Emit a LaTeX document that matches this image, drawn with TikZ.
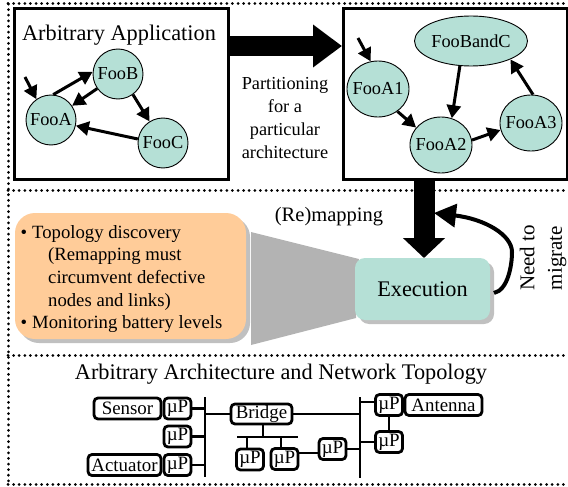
\documentclass[tikz,border=0pt]{standalone}
\usepackage{fontspec}
\setmainfont{Liberation Serif}
\usetikzlibrary{arrows.meta,shapes.geometric}
\definecolor{teal1}{HTML}{B5E0D6}
\definecolor{orange1}{HTML}{FFCC99}
\definecolor{gray1}{HTML}{B3B3B3}
\definecolor{gray2}{HTML}{C0C0C0}
\newcommand{\ztext}[1]{\makebox[0pt]{#1}}
\tikzset{
  dotline/.style={line width=3pt,line cap=round,dash pattern=on 0.01pt off 5.6pt},
  bigbox/.style={draw,line width=3pt,fill=white,inner sep=0pt,outer sep=0pt},
  statenode/.style={draw,ellipse,fill=teal1,line width=0.9pt,inner sep=0pt,outer sep=0.5pt,font=\fontsize{18.3}{22}\selectfont},
  edge/.style={line width=3pt,-{Triangle[length=13pt,width=14pt]},shorten >=0pt},
  netbox/.style={draw,fill=white,rectangle,rounded corners=4pt,line width=2.8pt,inner sep=0pt,outer sep=0pt,font=\fontsize{18.9}{22}\selectfont},
  wire/.style={line width=2.8pt},
  label22/.style={inner sep=0pt,font=\fontsize{22.3}{27}\selectfont},
  label18/.style={inner sep=0pt,align=center,font=\fontsize{18.3}{22.7}\selectfont},
}
\begin{document}
\begin{tikzpicture}[x=1pt,y=-1pt]
\useasboundingbox (0,0) rectangle (568,487);
\fill[white] (0,0) rectangle (568,487);
% dotted frame
\draw[dotline] (8,4) -- (568,4);
\draw[dotline] (8,190) -- (568,190);
\draw[dotline] (8,355) -- (568,355);
\draw[dotline] (8,484) -- (568,484);
\draw[dotline] (8,4) -- (8,484);
% top boxes
\node[bigbox,minimum width=214pt,minimum height=170pt] (appbox) at (121,94) {};
\node[bigbox,minimum width=224pt,minimum height=170pt] (partbox) at (455,94) {};
\node[label22] (apptitle) at (119,35.5) {Arbitrary Application};
\node[statenode,minimum width=50pt,minimum height=50pt] (fooB) at (118,74) {\ztext{FooB}};
\node[statenode,minimum width=50pt,minimum height=50pt] (fooA) at (51,120) {\ztext{FooA}};
\node[statenode,minimum width=50pt,minimum height=50pt] (fooC) at (163,143) {\ztext{FooC}};
\coordinate (entryA) at (25,77);
\draw[edge] (entryA) -- (fooA.125);
\draw[edge] (fooA.85) -- (fooB.175);
\draw[edge] (fooB.215) -- (fooA.34);
\draw[edge] (fooB.-54) -- (fooC.122);
\draw[edge] (fooC.171) -- (fooA.-13);
\node[statenode,minimum width=113pt,minimum height=50pt] (fooBC) at (471,41) {\ztext{FooBandC}};
\node[statenode,minimum width=62pt,minimum height=56pt] (fooA1) at (378,89) {\ztext{FooA1}};
\node[statenode,minimum width=62pt,minimum height=56pt] (fooA2) at (441,145) {\ztext{FooA2}};
\node[statenode,minimum width=62pt,minimum height=56pt] (fooA3) at (531,123) {\ztext{FooA3}};
\coordinate (entryB) at (358,38);
\draw[edge] (entryB) -- (fooA1.105);
\draw[edge] (fooA1.-49) -- (fooA2.145);
\draw[edge] (fooBC.-114) -- (fooA2.68);
\draw[edge] (fooA2.9) -- (fooA3.193);
\draw[edge] (fooA3.86) -- (fooBC.-25);
% partitioning arrow
\coordinate (partS) at (228,46);
\coordinate (partE) at (342,46);
\draw[line width=20pt,-{Triangle[length=29pt,width=41pt]}] (partS) -- (partE);
\node[label18] (parttext) at (285,118) {Partitioning\\for a\\particular\\architecture};
% middle
\fill[gray1] (251,232) -- (359,259) -- (356,318) -- (251,345) -- cycle;
\fill[gray2,rounded corners=20pt] (19,217) rectangle (250,343);
\node[draw=none,fill=orange1,rectangle,rounded corners=20pt,minimum width=231pt,minimum height=126pt,inner sep=0pt,outer sep=0pt] (orangebox) at (130.5,276) {};
\node[inner sep=0pt,anchor=west,align=left,font=\fontsize{18.7}{22.6}\selectfont] (orangetext) at (20.5,279) {\textbullet\hspace{5pt}Topology discovery\\\hspace*{27.5pt}(Remapping must\\\hspace*{27.5pt}circumvent defective\\\hspace*{27.5pt}nodes and links)\\\textbullet\hspace{5pt}Monitoring battery levels};
\fill[gray2,rounded corners=10pt] (359,262) rectangle (494,324);
\node[fill=teal1,rectangle,rounded corners=10pt,minimum width=135pt,minimum height=62pt,inner sep=0pt,outer sep=0pt,font=\fontsize{22.3}{27}\selectfont] (exec) at (422.5,289) {\raisebox{-1pt}{Execution}};
\coordinate (downS) at (424,179);
\coordinate (downE) at (424,258);
\draw[line width=21pt,-{Triangle[length=20pt,width=41pt]}] (downS) -- (downE);
\node[inner sep=0pt,font=\fontsize{20.5}{25}\selectfont] (remap) at (329,217) {(Re)mapping};
\coordinate (loopS) at (494,293);
\coordinate (loopE) at (434,213);
\draw[line width=4pt,-{Triangle[length=22pt,width=23pt]}] (loopS) .. controls (508,290) and (512,265) .. (512,252) .. controls (512,235) and (485,219) .. (loopE);
\node[inner sep=0pt,rotate=90,align=center,font=\fontsize{21}{27.5}\selectfont] (migrate) at (543,258) {Need to\\migrate};
% bottom
\node[label22] (archtitle) at (281,374.5) {Arbitrary Architecture and Network Topology};
\coordinate (busAt) at (205,397);
\coordinate (busAb) at (205,477);
\coordinate (busBt) at (360,397);
\coordinate (busBb) at (360,478);
\coordinate (busCl) at (237,437);
\coordinate (busCr) at (298,437);
\draw[wire] (busAt) -- (busAb);
\draw[wire] (busBt) -- (busBb);
\draw[wire] (busCl) -- (busCr);
\node[netbox,minimum width=67pt,minimum height=21pt] (sensor) at (127.5,408.5) {Sensor};
\node[netbox,minimum width=27pt,minimum height=21pt] (mu1) at (177.5,408.5) {µP};
\node[netbox,minimum width=27pt,minimum height=21pt] (mu2) at (177.5,436.5) {µP};
\node[netbox,minimum width=73pt,minimum height=21pt] (actuator) at (124.5,465) {Actuator};
\node[netbox,minimum width=27pt,minimum height=21pt] (mu3) at (177.5,465) {µP};
\node[netbox,minimum width=61pt,minimum height=20pt] (bridge) at (261.5,414) {Bridge};
\node[netbox,minimum width=27pt,minimum height=21pt] (mu4) at (250,459.5) {µP};
\node[netbox,minimum width=27pt,minimum height=21pt] (mu5) at (284.5,459) {µP};
\node[netbox,minimum width=27pt,minimum height=21pt] (mu6) at (332.5,449) {µP};
\node[netbox,minimum width=27pt,minimum height=21pt] (mu7) at (389,405) {µP};
\node[netbox,minimum width=77pt,minimum height=21pt] (antenna) at (443.5,405) {Antenna};
\node[netbox,minimum width=27pt,minimum height=21pt] (mu8) at (389,442) {µP};
\draw[wire] (mu1.east) -- (mu1.east -| busAt);
\draw[wire] (mu2.east) -- (mu2.east -| busAt);
\draw[wire] (mu3.east) -- (mu3.east -| busAt);
\draw[wire] (bridge.west) -- (bridge.west -| busAt);
\draw[wire] (bridge.east) -- (bridge.east -| busBt);
\draw[wire] (bridge.south -| 263,0) -- (busCl -| 263,0);
\draw[wire] (mu4.north) ++(-3,0) -- (busCl -| 247,0);
\draw[wire] (mu5.north) ++(-3.5,0) -- (busCl -| 281,0);
\draw[wire] (mu5.east) ++(0,-6) -- (mu6.west |- 0,453);
\draw[wire] (mu6.east) -- (mu6.east -| busBt);
\draw[wire] (mu7.west) ++(0,-3) -- (busBt |- 0,402);
\draw[wire] (mu8.west) -- (mu8.west -| busBt);
\draw[wire] (mu7.south) -- (mu8.north);
\end{tikzpicture}
\end{document}
